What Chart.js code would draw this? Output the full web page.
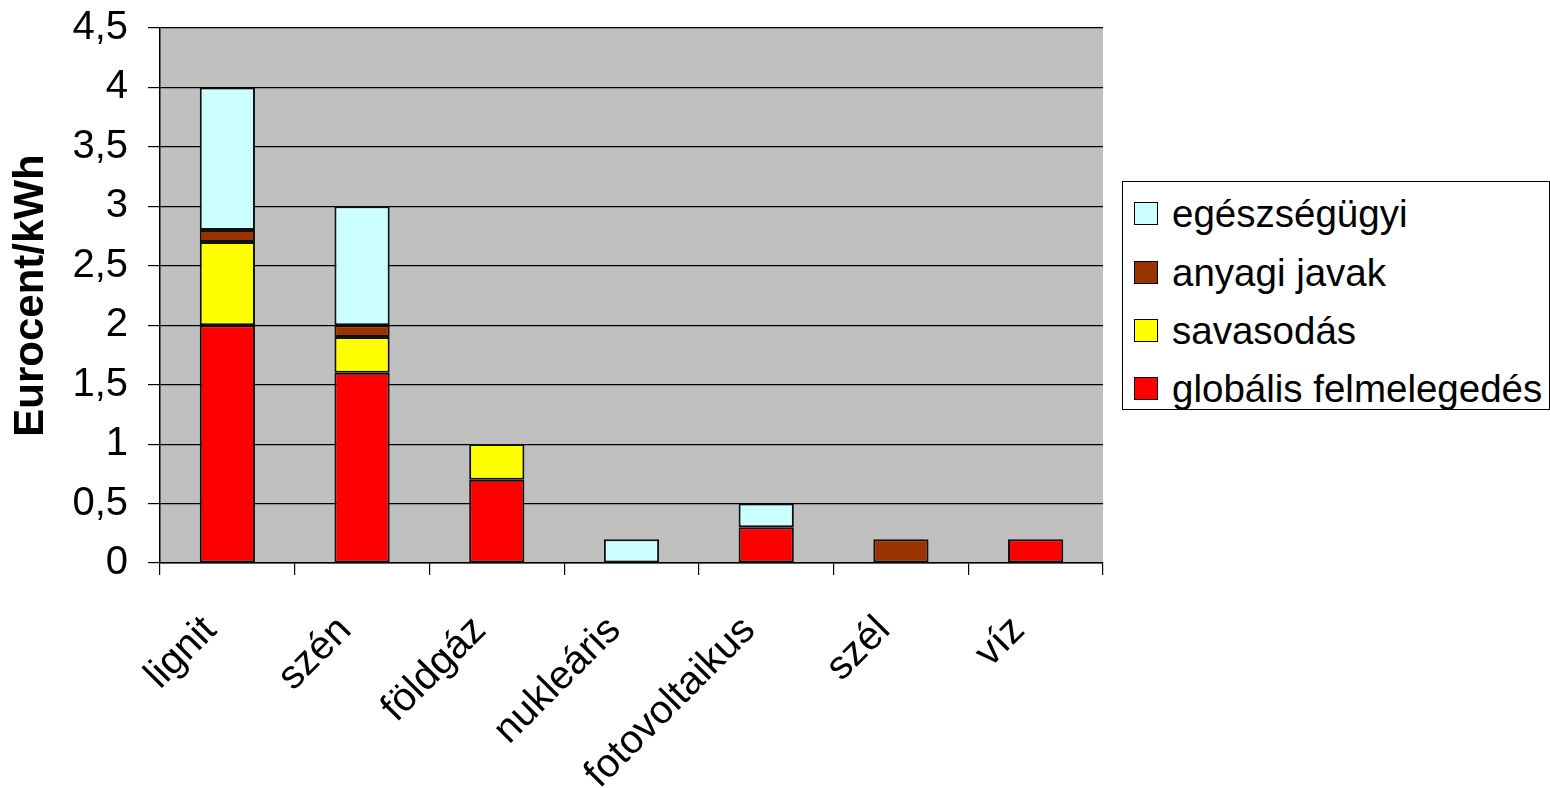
<!DOCTYPE html>
<html>
<head>
<meta charset="utf-8">
<script src="https://cdn.jsdelivr.net/npm/chart.js@4.4.0/dist/chart.umd.min.js"></script>
<style>
  body { margin: 0; background: #fff; }
  #wrap { position: relative; width: 1550px; height: 788px; }
  #legend {
    position: absolute; left: 1122px; top: 181px; width: 428px; height: 229px;
    box-sizing: border-box; border: 1px solid #000; background: #fff;
    font-family: "Liberation Sans", Arial, sans-serif; font-size: 38.5px; color: #000;
  }
  .item { position: absolute; left: 11px; height: 40px; line-height: 40px; white-space: nowrap; }
  .sw { display: inline-block; width: 24px; height: 23px; border: 1.5px solid #000; vertical-align: middle; margin-right: 14px; box-sizing: border-box; position: relative; top: -3px; }
</style>
</head>
<body>
<div id="wrap">
  <canvas id="chart" width="1550" height="788"></canvas>
  <div id="legend"></div>
</div>
<script>
// kategóriák
var categories = ['lignit', 'szén', 'földgáz', 'nukleáris', 'fotovoltaikus', 'szél', 'víz'];

// sorozatok (alulról felfelé)
var globalis = [2, 1.6, 0.7, null, 0.3, null, 0.2];
var savasodas = [0.7, 0.3, 0.3, null, null, null, null];
var anyagi = [0.1, 0.1, null, null, null, 0.2, null];
var egeszseg = [1.2, 1.0, null, 0.2, 0.2, null, null];

var seriesNames = ['globális felmelegedés', 'savasodás', 'anyagi javak', 'egészségügyi'];
var seriesColors = ['#ff0000', '#ffff00', '#993300', '#ccffff'];

var yTicks = [0, 0.5, 1, 1.5, 2, 2.5, 3, 3.5, 4, 4.5];

document.addEventListener('DOMContentLoaded', function () {
    var font = "'Liberation Sans', Arial, sans-serif";
    var seriesData = [globalis, savasodas, anyagi, egeszseg];

    var datasets = seriesData.map(function (d, i) {
        return {
            label: seriesNames[i],
            data: d,
            backgroundColor: seriesColors[i],
            borderColor: '#111',
            borderWidth: 2,
            borderSkipped: false,
            barPercentage: 1,
            categoryPercentage: 0.41
        };
    });

    // szürke háttér a rajzterületen
    var plotBg = {
        id: 'plotBg',
        beforeDraw: function (chart) {
            var a = chart.chartArea;
            var ctx = chart.ctx;
            ctx.save();
            ctx.fillStyle = '#c0c0c0';
            ctx.fillRect(a.left, a.top, a.right - a.left, a.bottom - a.top);
            ctx.restore();
        }
    };

    var ctx = document.getElementById('chart').getContext('2d');
    new Chart(ctx, {
        type: 'bar',
        data: { labels: categories, datasets: datasets },
        plugins: [plotBg],
        options: {
            responsive: false,
            animation: false,
            layout: { padding: { left: 0, right: 447, top: 0, bottom: 0 } },
            scales: {
                x: {
                    stacked: true,
                    offset: true,
                    afterFit: function (scale) { scale.height = 225; },
                    grid: { offset: true, drawOnChartArea: false, color: '#000', tickLength: 12, lineWidth: 1.2 },
                    border: { color: '#000', width: 1.5 },
                    ticks: {
                        color: '#000', font: { family: font, size: 40 },
                        maxRotation: 45, minRotation: 45, padding: 32, labelOffset: -17, autoSkip: false
                    }
                },
                y: {
                    stacked: true,
                    min: 0, max: 4.5,
                    afterFit: function (scale) {
                        scale.width = 160;
                        scale.paddingTop = 28;
                    },
                    afterBuildTicks: function (scale) {
                        scale.ticks = yTicks.map(function (v) { return { value: v }; });
                    },
                    grid: { color: '#000', tickLength: 12, lineWidth: 1.2 },
                    border: { color: '#000', width: 1.5 },
                    ticks: {
                        color: '#000', font: { family: font, size: 40 }, padding: 20,
                        callback: function (v) { return String(v).replace('.', ','); }
                    },
                    title: {
                        display: true, text: 'Eurocent/kWh', color: '#000',
                        font: { family: font, size: 42, weight: 'bold' },
                        padding: { top: 6, bottom: 0 }
                    }
                }
            },
            plugins: {
                legend: { display: false },
                tooltip: { enabled: false }
            }
        }
    });

    // jelmagyarázat (felülről lefelé fordított sorrendben)
    var legend = document.getElementById('legend');
    var tops = [12, 71, 129, 187];
    for (var i = seriesNames.length - 1, k = 0; i >= 0; i--, k++) {
        var it = document.createElement('div');
        it.className = 'item';
        it.style.top = tops[k] + 'px';
        var sw = document.createElement('span');
        sw.className = 'sw';
        sw.style.background = seriesColors[i];
        it.appendChild(sw);
        it.appendChild(document.createTextNode(seriesNames[i]));
        legend.appendChild(it);
    }
});
</script>
</body>
</html>
